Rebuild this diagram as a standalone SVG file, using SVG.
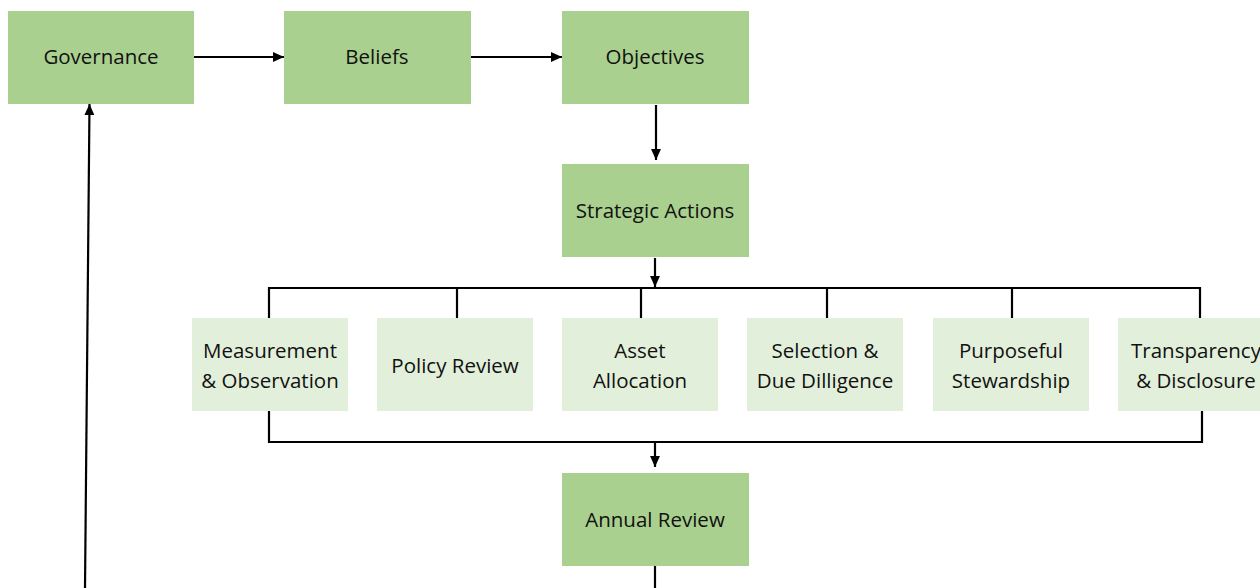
<svg xmlns="http://www.w3.org/2000/svg" width="1260" height="588" viewBox="0 0 1260 588">
<style>
.dk{fill:#A9D08E}
.lt{fill:#E2EFDA}
text{font-family:"Open Sans","Liberation Sans",Arial,sans-serif;font-size:20.5px;fill:#111;text-anchor:middle}
.c{stroke:#000;stroke-width:2.2;fill:none}
</style>
<defs>
<marker id="ah" viewBox="0 0 10 10" refX="10" refY="5" markerWidth="5" markerHeight="4.5" markerUnits="strokeWidth" orient="auto" preserveAspectRatio="none">
<path d="M0,0 L10,5 L0,10 z" fill="#000"/>
</marker>
</defs>
<rect width="1260" height="588" fill="#fff"/>
<g id="connectors">
<line class="c" x1="193" y1="57" x2="284" y2="57" marker-end="url(#ah)"/>
<line class="c" x1="471" y1="57" x2="562" y2="57" marker-end="url(#ah)"/>
<line class="c" x1="656" y1="105" x2="656" y2="160" marker-end="url(#ah)"/>
<line class="c" x1="655" y1="258" x2="655" y2="287" marker-end="url(#ah)"/>
<polyline class="c" points="269,318 269,288 1200,288 1200,318"/>
<line class="c" x1="457" y1="288" x2="457" y2="318"/>
<line class="c" x1="641" y1="288" x2="641" y2="318"/>
<line class="c" x1="827" y1="288" x2="827" y2="318"/>
<line class="c" x1="1012" y1="288" x2="1012" y2="318"/>
<polyline class="c" points="269,411 269,442 1202,442 1202,411"/>
<line class="c" x1="655" y1="442" x2="655" y2="467" marker-end="url(#ah)"/>
<line class="c" x1="655" y1="566" x2="655" y2="588"/>
<line class="c" x1="85" y1="588" x2="89.5" y2="104" marker-end="url(#ah)"/>
</g>
<g id="governance"><rect class="dk" x="8" y="11" width="186" height="93"/><text x="101" y="64">Governance</text></g>
<g id="beliefs"><rect class="dk" x="284" y="11" width="187" height="93"/><text x="377" y="64">Beliefs</text></g>
<g id="objectives"><rect class="dk" x="562" y="11" width="187" height="93"/><text x="655" y="64">Objectives</text></g>
<g id="strategic-actions"><rect class="dk" x="562" y="164" width="187" height="93"/><text x="655" y="218">Strategic Actions</text></g>
<g id="measurement"><rect class="lt" x="192" y="318" width="156" height="93"/><text x="270" y="358">Measurement</text><text x="270" y="388">&amp; Observation</text></g>
<g id="policy-review"><rect class="lt" x="377" y="318" width="156" height="93"/><text x="455" y="373">Policy Review</text></g>
<g id="asset-allocation"><rect class="lt" x="562" y="318" width="156" height="93"/><text x="640" y="358">Asset</text><text x="640" y="388">Allocation</text></g>
<g id="selection"><rect class="lt" x="747" y="318" width="156" height="93"/><text x="825" y="358">Selection &amp;</text><text x="825" y="388">Due Dilligence</text></g>
<g id="stewardship"><rect class="lt" x="933" y="318" width="156" height="93"/><text x="1011" y="358">Purposeful</text><text x="1011" y="388">Stewardship</text></g>
<g id="transparency"><rect class="lt" x="1118" y="318" width="156" height="93"/><text x="1196" y="358">Transparency</text><text x="1196" y="388">&amp; Disclosure</text></g>
<g id="annual-review"><rect class="dk" x="562" y="473" width="187" height="93"/><text x="655" y="527">Annual Review</text></g>
</svg>
